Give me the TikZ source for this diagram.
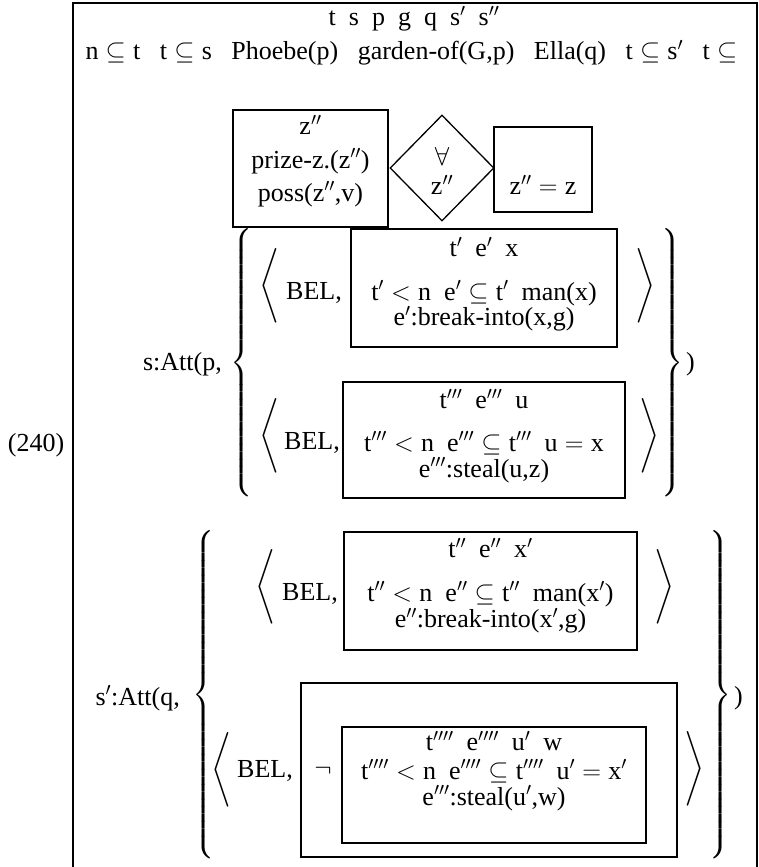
\documentclass[tikz,border=0pt]{standalone}
\usepackage{fix-cm}
\usepackage{amsmath}
\usepackage{fontspec}
\setmainfont{Liberation Serif}
\usetikzlibrary{shapes.geometric}
\newcommand{\mylb}[1]{$\nulldelimiterspace=0pt\left\{\vrule height #1 depth #1 width 0pt\right.$}
\newcommand{\myrb}[1]{$\nulldelimiterspace=0pt\left.\vrule height #1 depth #1 width 0pt\right\}$}
\newcommand{\mylang}{$\nulldelimiterspace=0pt\left\langle\vrule height 45pt depth 45pt width 0pt\right.$}
\newcommand{\myrang}{$\nulldelimiterspace=0pt\left.\vrule height 45pt depth 45pt width 0pt\right\rangle$}
\tikzset{
  txt/.style={inner sep=0pt},
  dlm/.style={inner sep=0pt},
  drsbox/.style={draw, line width=1.8pt, inner sep=0pt},
  dia/.style={draw, diamond, line width=1.3pt, inner sep=0pt},
  frame/.style={line width=2pt}
}
\begin{document}
\begin{tikzpicture}[x=1pt,y=-1pt,every node/.style={font=\fontsize{26}{30}\selectfont}]
\useasboundingbox (0,0) rectangle (759,867);
\draw[frame] (73,885) -- (73,3) -- (757,3) -- (757,885);
% header
\node[txt] (univ) at (414,19) {t\ \ s\ \ p\ \ g\ \ q\ \ s$'$\ \ s$''$};
\node[txt] (conds) at (415,53) {n${}\subseteq{}$t\hspace{.75em}t${}\subseteq{}$s\hspace{.75em}Phoebe(p)\hspace{.75em}garden-of(G,p)\hspace{.75em}Ella(q)\hspace{.75em}t${}\subseteq{}$s$'$\hspace{.75em}t${}\subseteq{}$};
% duplex condition
\node[drsbox, minimum width=155pt, minimum height=117pt] (bz) at (310.5,168.5) {};
\node[txt] (bzu) at (310.5,125) {z$''$};
\node[txt] (bzc1) at (310.5,161) {prize-z.(z$''$)};
\node[txt] (bzc2) at (310.5,194) {poss(z$''$,v)};
\node[dia, minimum width=104pt, minimum height=106pt] (dm) at (442,168) {};
\node[txt] (fa) at (442,156) {$\forall$};
\node[txt] (faz) at (442,185) {z$''$};
\node[drsbox, minimum width=98pt, minimum height=85pt] (bzz) at (543,169.5) {};
\node[txt] (bzzc) at (543,185) {z$''={}$z};
% s:Att(p, ...)
\node[txt, anchor=east] (att1) at (222,364) {s:Att(p,};
\node[dlm, anchor=west] (lb1) at (230,363.5) {\mylb{130pt}};
\node[dlm, anchor=east] (rb1) at (684,363.5) {\myrb{130pt}};
\node[txt, anchor=west] (cl1) at (686,364) {)};
% row 1
\node[dlm] (la1) at (270,292) {\mylang};
\node[txt] (bel1) at (314,293) {BEL,};
\node[drsbox, minimum width=266pt, minimum height=118pt] (b1) at (484,288) {};
\node[txt] (b1u) at (484,247) {t$'$\ \ e$'$\ \ x};
\node[txt] (b1c1) at (484,293) {t$'<{}$n\ \ e$'\subseteq{}$t$'$\ \ man(x)};
\node[txt] (b1c2) at (484,319) {e$'$:break-into(x,g)};
\node[dlm] (ra1) at (646,292) {\myrang};
% row 2
\node[dlm] (la2) at (270,442) {\mylang};
\node[txt] (bel2) at (312,443) {BEL,};
\node[drsbox, minimum width=282pt, minimum height=116pt] (b2) at (484,440) {};
\node[txt] (b2u) at (484,399) {t$'''$\ \ e$'''$\ \ u};
\node[txt] (b2c1) at (484,443) {t$'''<{}$n\ \ e$'''\subseteq{}$t$'''$\ \ u${}={}$x};
\node[txt] (b2c2) at (484,470) {e$'''$:steal(u,z)};
\node[dlm] (ra2) at (650,442) {\myrang};
% (240)
\node[txt] (num) at (36,445) {(240)};
% s':Att(q, ...)
\node[txt, anchor=east] (att2) at (180,698) {s$'$:Att(q,};
\node[dlm, anchor=west] (lb2) at (192,695) {\mylb{156pt}};
\node[dlm, anchor=east] (rb2) at (732,695) {\myrb{156pt}};
\node[txt, anchor=west] (cl2) at (734,698) {)};
% row 3
\node[dlm] (la3) at (266,593) {\mylang};
\node[txt] (bel3) at (310,594) {BEL,};
\node[drsbox, minimum width=293pt, minimum height=118pt] (b3) at (490.5,591) {};
\node[txt] (b3u) at (490.5,548) {t$''$\ \ e$''$\ \ x$'$};
\node[txt] (b3c1) at (490.5,594) {t$''<{}$n\ \ e$''\subseteq{}$t$''$\ \ man(x$'$)};
\node[txt] (b3c2) at (490.5,621) {e$''$:break-into(x$'$,g)};
\node[dlm] (ra3) at (665,593) {\myrang};
% row 4
\node[dlm] (la4) at (222,776) {\mylang};
\node[txt] (bel4) at (265,771) {BEL,};
\node[drsbox, minimum width=376pt, minimum height=174pt] (b4o) at (489,770) {};
\node[txt] (neg) at (323,771) {$\neg$};
\node[drsbox, minimum width=304pt, minimum height=116pt] (b4i) at (494,785) {};
\node[txt] (b4u) at (494,741) {t$''''$\ \ e$''''$\ \ u$'$\ \ w};
\node[txt] (b4c1) at (494,771) {t$''''<{}$n\ \ e$''''\subseteq{}$t$''''$\ \ u$'={}$x$'$};
\node[txt] (b4c2) at (494,798) {e$'''$:steal(u$'$,w)};
\node[dlm] (ra4) at (695,775) {\myrang};
\end{tikzpicture}
\end{document}
